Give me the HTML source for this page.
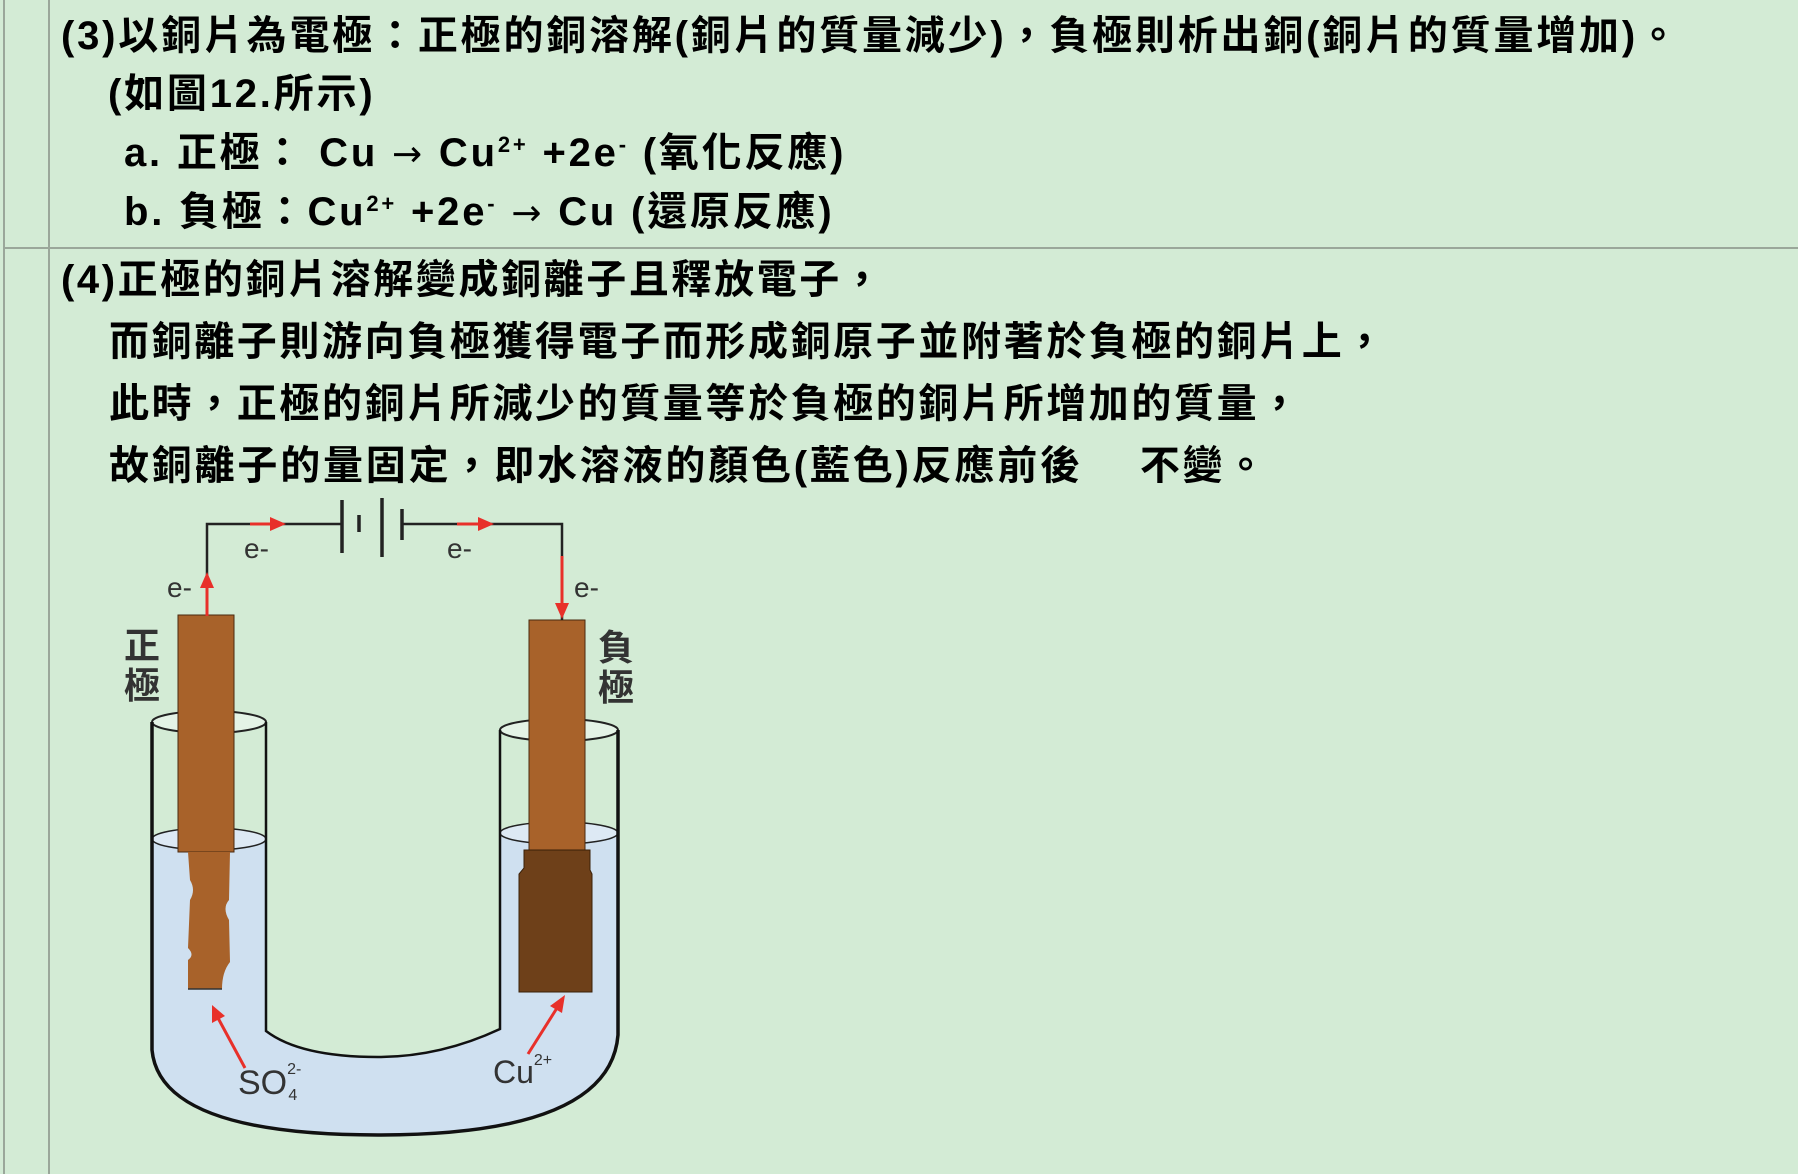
<!DOCTYPE html>
<html><head><meta charset="utf-8"><style>
html,body{margin:0;padding:0}
body{width:1798px;height:1174px;background:#d3ebd5;position:relative;overflow:hidden;font-family:"Liberation Sans","Noto Sans CJK TC",sans-serif}
.t{position:absolute;white-space:pre;font-weight:bold;font-size:40px;line-height:40px;color:#000;letter-spacing:2.8px}
sup{font-size:22px;vertical-align:14px;line-height:0}
.ar{font-family:"DejaVu Sans",sans-serif;font-size:36px;font-weight:normal}
.vl{position:absolute;background:#9aa79a}
</style></head><body>
<div class="vl" style="left:3px;top:0;width:2px;height:1174px"></div>
<div class="vl" style="left:48px;top:0;width:2px;height:1174px"></div>
<div class="vl" style="left:3px;top:247px;width:1795px;height:2px"></div>

<div class="t" style="left:61px;top:16px">(3)以銅片為電極：正極的銅溶解(銅片的質量減少)，負極則析出銅(銅片的質量增加)。</div>
<div class="t" style="left:108px;top:74px">(如圖12.所示)</div>
<div class="t" style="left:124px;top:133px">a. 正極： Cu <span class="ar">→</span> Cu<sup>2+</sup> +2e<sup>-</sup> (氧化反應)</div>
<div class="t" style="left:124px;top:192px">b. 負極：Cu<sup>2+</sup> +2e<sup>-</sup> <span class="ar">→</span> Cu (還原反應)</div>

<div class="t" style="left:61px;top:260px;letter-spacing:2.6px">(4)正極的銅片溶解變成銅離子且釋放電子，</div>
<div class="t" style="left:109px;top:322px;letter-spacing:2.6px">而銅離子則游向負極獲得電子而形成銅原子並附著於負極的銅片上，</div>
<div class="t" style="left:109px;top:384px;letter-spacing:2.6px">此時，正極的銅片所減少的質量等於負極的銅片所增加的質量，</div>
<div class="t" style="left:109px;top:446px;letter-spacing:2.8px">故銅離子的量固定，即水溶液的顏色(藍色)反應前後<span style="display:inline-block;width:57px"></span>不變。</div>

<svg width="1798" height="1174" style="position:absolute;left:0;top:0" xmlns="http://www.w3.org/2000/svg">
 <path d="M152,839 L152,1050 Q160,1135 378,1135 Q610,1135 618,1035 L618,833 L500,833 L500,1029 Q440,1057 378,1057 Q300,1057 266,1031 L266,839 Z" fill="#cfe0f0"/>
 <ellipse cx="209" cy="722" rx="57" ry="11" fill="#e4f3e6" stroke="#222" stroke-width="2"/>
 <ellipse cx="559" cy="730" rx="59" ry="11" fill="#e4f3e6" stroke="#222" stroke-width="2"/>
 <ellipse cx="209" cy="839" rx="57" ry="11" fill="#dde9f4" stroke="#222" stroke-width="1.5"/>
 <ellipse cx="559" cy="833" rx="59" ry="11" fill="#dde9f4" stroke="#222" stroke-width="1.5"/>
 <path d="M152,722 L152,1050 Q160,1135 378,1135 Q610,1135 618,1035 L618,730" fill="none" stroke="#111" stroke-width="3.5"/>
 <path d="M266,722 L266,1031 Q300,1057 378,1057 Q440,1057 500,1029 L500,730" fill="none" stroke="#111" stroke-width="2.5"/>
 <rect x="178" y="615" width="56" height="237" fill="#a8622a" stroke="#4a2a10" stroke-width="1"/>
 <path d="M188,852 L230,852 L229,900 Q222,908 229,920 L230,962 Q222,972 222,989 L188,989 L188,960 Q195,955 188,948 L190,900 Q196,890 190,880 Z" fill="#a8622a"/>
 <line x1="188" y1="989" x2="222" y2="989" stroke="#333" stroke-width="1.5"/>
 <rect x="529" y="620" width="56" height="230" fill="#a8622a" stroke="#4a2a10" stroke-width="1"/>
 <path d="M524,850 L590,850 L590,870 L592,874 L592,992 L519,992 L519,874 L524,868 Z" fill="#6e4019" stroke="#3a2008" stroke-width="1"/>
 <polyline points="207,616 207,524 341,524" fill="none" stroke="#222" stroke-width="2.5"/>
 <polyline points="402,524 562,524 562,620" fill="none" stroke="#222" stroke-width="2.5"/>
 <line x1="342" y1="500" x2="342" y2="553" stroke="#222" stroke-width="3.5"/>
 <line x1="359" y1="515" x2="359" y2="532" stroke="#222" stroke-width="3.5"/>
 <line x1="382" y1="498" x2="382" y2="557" stroke="#222" stroke-width="3.5"/>
 <line x1="402" y1="509" x2="402" y2="540" stroke="#222" stroke-width="3.5"/>
 <g stroke="#e8302a" stroke-width="3" fill="#e8302a">
  <line x1="250" y1="524" x2="272" y2="524"/><polygon points="286,524 270,517 270,531" stroke="none"/>
  <line x1="457" y1="524" x2="480" y2="524"/><polygon points="494,524 478,517 478,531" stroke="none"/>
  <line x1="207" y1="616" x2="207" y2="584"/><polygon points="207,572 200,588 214,588" stroke="none"/>
  <line x1="562" y1="556" x2="562" y2="604"/><polygon points="562,619 555,603 569,603" stroke="none"/>
  <line x1="245" y1="1068" x2="218" y2="1018"/><polygon points="212,1005 212,1023 225,1016" stroke="none"/>
  <line x1="528" y1="1054" x2="557" y2="1008"/><polygon points="565,995 550,1006 562,1013" stroke="none"/>
 </g>
 <g font-family="Liberation Sans, sans-serif" font-size="28" fill="#333">
  <text x="244" y="558">e-</text>
  <text x="447" y="558">e-</text>
  <text x="167" y="597">e-</text>
  <text x="574" y="597">e-</text>
  <text x="238" y="1094" font-size="34">SO<tspan font-size="16" dy="-20">2-</tspan><tspan font-size="16" dx="-13" dy="26">4</tspan></text>
  <text x="493" y="1083" font-size="32">Cu<tspan font-size="16" dy="-18">2+</tspan></text>
 </g>
 <g font-family="Liberation Sans, Noto Sans CJK TC, sans-serif" font-size="36" font-weight="bold" fill="#333">
  <text x="124" y="658">正</text><text x="124" y="698">極</text>
  <text x="598" y="660">負</text><text x="598" y="700">極</text>
 </g>
</svg>
</body></html>
